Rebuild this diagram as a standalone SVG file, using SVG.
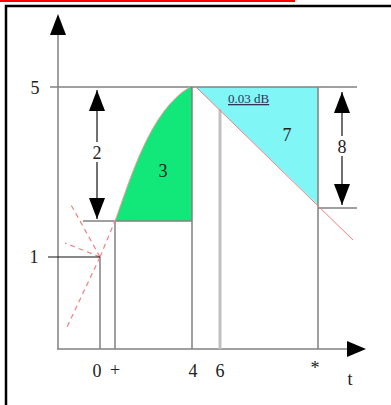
<svg xmlns="http://www.w3.org/2000/svg" width="391" height="405" viewBox="0 0 391 405">
<style>
.g{stroke:#808080;stroke-width:1.5;fill:none}
.k{stroke:#111;stroke-width:1.2;fill:none}
.d{stroke:#f08080;stroke-width:1.2;fill:none;stroke-dasharray:5 4}
.t{font-family:"Liberation Serif",serif;font-size:18px;fill:#222;text-anchor:middle}
</style>
<rect width="391" height="405" fill="#fff"/>
<line x1="0" y1="1" x2="295" y2="1" stroke="#ff0000" stroke-width="2"/>
<path d="M6,405 V6 H391" fill="none" stroke="#000" stroke-width="2.5"/>
<g id="areas">
<path d="M115,221 C130,180 150,110 190,87 L192,87 L192,221 Z" fill="#11e879"/>
<path d="M196,87 L318,87 L318,205 Z" fill="#80f6f6"/>
</g>
<g id="connectors">
<path class="g" d="M58,349 V32"/>
<path d="M50,35 L58,14 L66,35 Z" fill="#000"/>
<path class="g" d="M57,349 H348"/>
<path d="M347,341 L366,349 L347,357 Z" fill="#000"/>
<path class="g" d="M50,87 H357"/>
<path class="g" d="M83,221 H192"/>
<path class="g" d="M318,208 H357"/>
<path class="g" d="M100,257 V349"/>
<path class="g" d="M115,221 V349"/>
<path class="g" d="M192,87 V349"/>
<path class="g" d="M318,87 V349"/>
<path d="M220,109 V349" stroke="#c0c0c0" stroke-width="3"/>
<path d="M115,221 C130,180 150,110 190,87" stroke="#f4a0a0" stroke-width="1" fill="none"/>
<path d="M196,87 L353,240" stroke="#f08080" stroke-width="1"/>
<path class="d" d="M100,257 L115,221"/>
<path class="d" d="M100,257 L70,203"/>
<path class="d" d="M100,257 L65,243"/>
<path class="d" d="M100,257 L67,327"/>
<path class="k" d="M48,257 H100"/>
<path d="M97,90 V219" stroke="#111" stroke-width="1.2"/>
<path d="M89,111 L97,90 L105,111 Z" fill="#000"/>
<path d="M89,198 L97,219 L105,198 Z" fill="#000"/>
<path d="M342,92 V205" stroke="#111" stroke-width="1.2"/>
<path d="M334,113 L342,92 L350,113 Z" fill="#000"/>
<path d="M334,184 L342,205 L350,184 Z" fill="#000"/>
</g>
<g id="labels">
<rect x="90" y="142" width="14" height="20" fill="#fff"/>
<rect x="335" y="136" width="14" height="20" fill="#fff"/>
<text class="t" x="35" y="94">5</text>
<text class="t" x="34" y="263">1</text>
<text class="t" x="97" y="159">2</text>
<text class="t" x="163" y="177">3</text>
<text class="t" x="287" y="141">7</text>
<text class="t" x="342" y="153">8</text>
<text x="228" y="103" font-family="Liberation Serif,serif" font-size="13" fill="#335" text-decoration="underline">0.03 dB</text>
<text class="t" x="97" y="377">0</text>
<text class="t" x="115" y="376" font-size="13">+</text>
<text class="t" x="193" y="377">4</text>
<text class="t" x="220" y="377">6</text>
<text class="t" x="315" y="374" font-size="13">*</text>
<text class="t" x="350" y="385" font-size="20">t</text>
</g>
</svg>
